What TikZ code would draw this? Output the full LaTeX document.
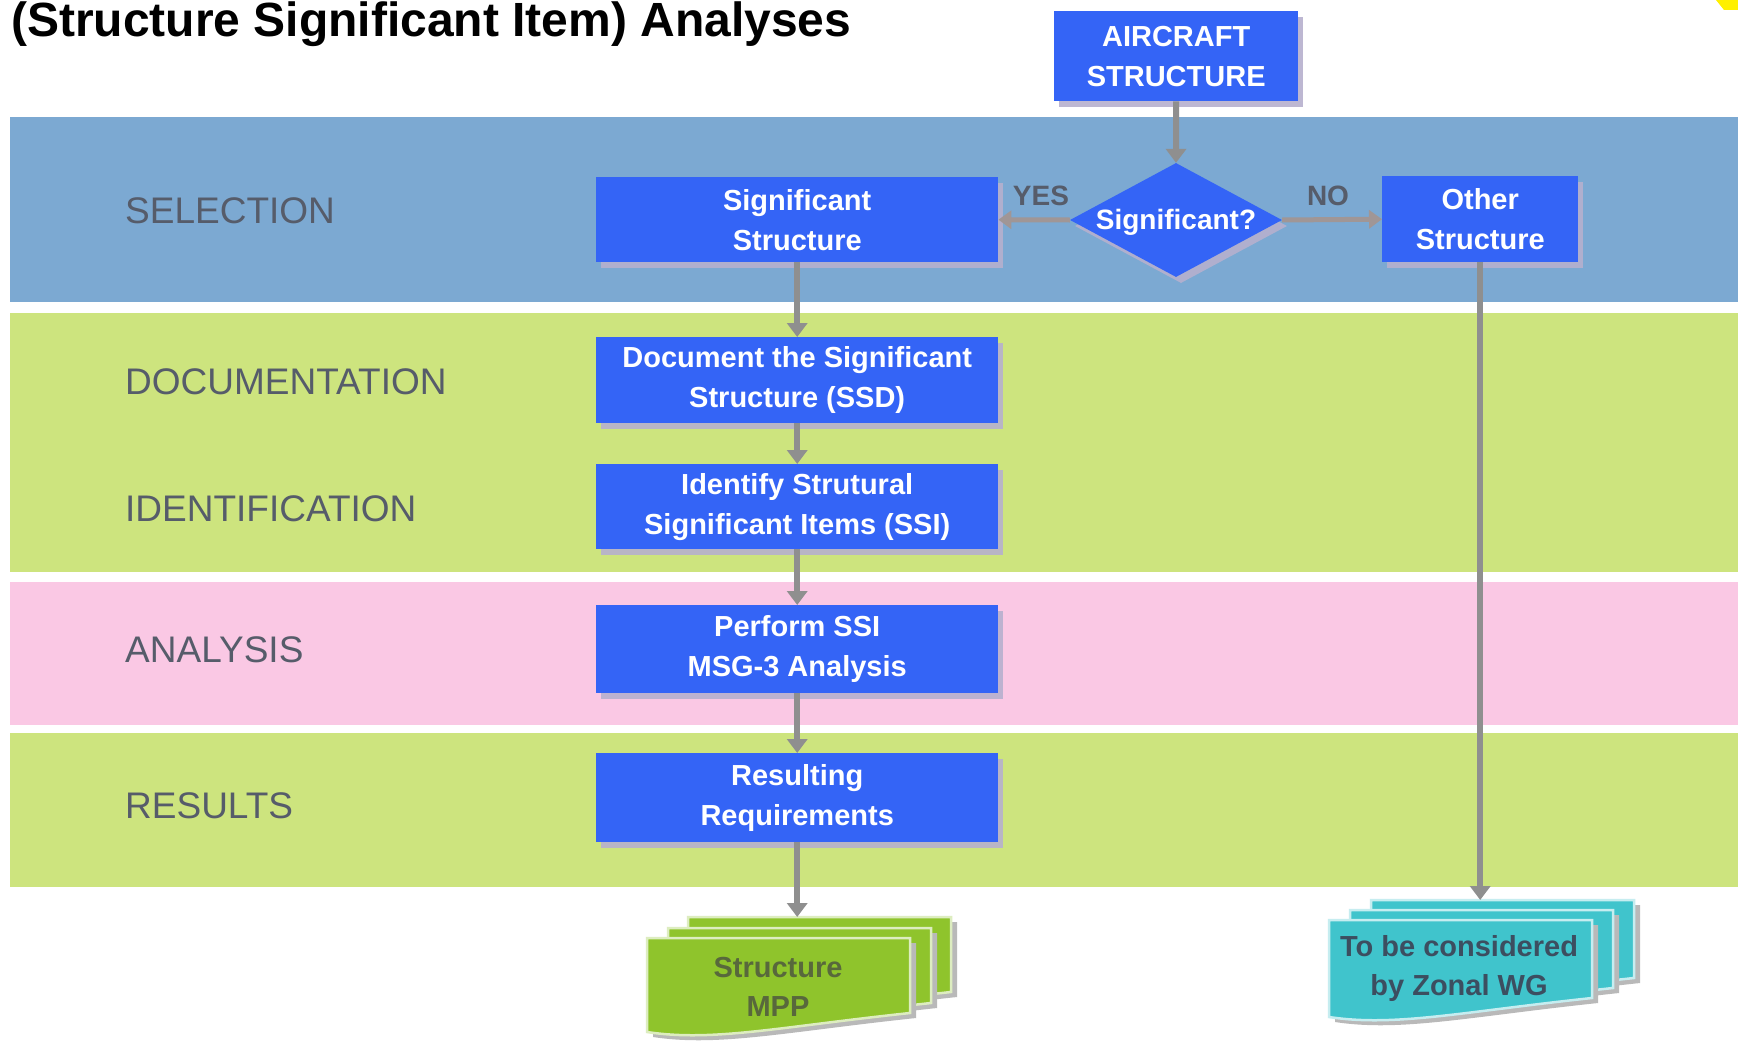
\documentclass[tikz,border=0pt]{standalone}
\usepackage{fontspec}
\setmainfont{Liberation Sans}
\usetikzlibrary{arrows.meta,shapes.geometric,shadows}

\definecolor{bandblue}{RGB}{124,169,210}
\definecolor{bandgreen}{RGB}{205,228,126}
\definecolor{bandpink}{RGB}{250,200,228}
\definecolor{boxblue}{RGB}{52,100,246}
\definecolor{labelgray}{RGB}{86,92,106}
\definecolor{arrowgray}{RGB}{143,143,143}
\definecolor{shadowlav}{RGB}{182,176,206}
\definecolor{mppgreen}{RGB}{143,196,44}
\definecolor{mpptext}{RGB}{88,104,60}
\definecolor{zonalteal}{RGB}{64,196,204}
\definecolor{zonaltext}{RGB}{60,78,96}
\definecolor{pagegray}{RGB}{185,185,185}
\definecolor{markyellow}{RGB}{255,240,0}

% one sheet of a document stack: x, y (top left), width, height, colour
\newcommand\stackpage[5]{%
  \fill[pagegray, shift={(6,5)}] (#1,#2) -- ({#1+#3},#2) -- ({#1+#3},{#2+#4-19})
    .. controls ({#1+0.5*#3},{#2+#4-5}) and ({#1+0.25*#3},{#2+#4+10}) .. (#1,{#2+#4}) -- cycle;
  \draw[fill=#5, draw=#5!30!white, line width=2.5pt] (#1,#2) -- ({#1+#3},#2) -- ({#1+#3},{#2+#4-19})
    .. controls ({#1+0.5*#3},{#2+#4-5}) and ({#1+0.25*#3},{#2+#4+10}) .. (#1,{#2+#4}) -- cycle;
}

\begin{document}
\begin{tikzpicture}[x=1pt, y=-1pt,
  stepbox/.style={fill=boxblue, text=white, font=\bfseries\fontsize{29}{40}\selectfont,
    align=center, inner sep=0pt, anchor=north west,
    drop shadow={shadow xshift=5pt, shadow yshift=-6pt, fill=shadowlav, opacity=0.9}},
  phaselabel/.style={anchor=west, text=labelgray, font=\fontsize{37}{44}\selectfont, inner sep=0pt},
  answer/.style={text=labelgray, font=\bfseries\fontsize{28}{34}\selectfont, inner sep=0pt},
  flow/.style={draw=arrowgray, line width=6pt, -{Triangle[width=20pt,length=14pt]}},
  sideflow/.style={draw=arrowgray!85!pink, line width=5pt, -{Triangle[width=18pt,length=13pt]}},
  doctext/.style={font=\bfseries\fontsize{29}{39}\selectfont, align=center, inner sep=0pt}]

\useasboundingbox (0,0) rectangle (1738,1041);
\fill[white] (0,0) rectangle (1738,1041);

% phase bands
\fill[bandblue]  (10,117) rectangle (1738,302);
\fill[bandgreen] (10,313) rectangle (1738,572);
\fill[bandpink]  (10,582) rectangle (1738,725);
\fill[bandgreen] (10,733) rectangle (1738,887);

% corner mark
\fill[markyellow] (1716,0) -- (1738,0) -- (1738,10) -- (1724,10) -- cycle;

% heading
\node[anchor=base west, inner sep=0pt, font=\bfseries\fontsize{48}{56}\selectfont] (title) at (11,37)
  {(Structure Significant Item) Analyses};

% phase names
\node[phaselabel] (lsel) at (125,211) {SELECTION};
\node[phaselabel] (ldoc) at (125,382) {DOCUMENTATION};
\node[phaselabel] (lid)  at (125,509) {IDENTIFICATION};
\node[phaselabel] (lana) at (125,650) {ANALYSIS};
\node[phaselabel] (lres) at (125,806) {RESULTS};

% process boxes
\node[stepbox, minimum width=244pt, minimum height=90pt] (ac) at (1054,11) {AIRCRAFT\\STRUCTURE};
\node[diamond, fill=boxblue, minimum width=212pt, minimum height=114pt, inner sep=0pt,
  drop shadow={shadow xshift=5pt, shadow yshift=-6pt, fill=shadowlav, opacity=0.9}] (dia) at (1176,220) {};
\node[text=white, font=\bfseries\fontsize{28}{34}\selectfont, inner sep=0pt] (diatext) at (1176,222) {Significant?};
\node[stepbox, minimum width=402pt, minimum height=85pt] (sig) at (596,177) {Significant\\Structure};
\node[stepbox, minimum width=196pt, minimum height=86pt] (oth) at (1382,176) {Other\\Structure};
\node[stepbox, minimum width=402pt, minimum height=86pt] (doc) at (596,337) {Document the Significant\\Structure (SSD)};
\node[stepbox, minimum width=402pt, minimum height=85pt] (ident) at (596,464) {Identify Strutural\\Significant Items (SSI)};
\node[stepbox, minimum width=402pt, minimum height=88pt] (perf) at (596,605) {Perform SSI\\MSG-3 Analysis};
\node[stepbox, minimum width=402pt, minimum height=89pt] (res) at (596,753) {Resulting\\Requirements};

\node[answer] (yes) at (1041,196) {YES};
\node[answer] (no)  at (1328,196) {NO};

% output document stacks
\stackpage{688}{917}{263}{94}{mppgreen}
\stackpage{668}{928}{263}{94}{mppgreen}
\stackpage{647}{938}{263}{94}{mppgreen}
\node[doctext, text=mpptext] (mpp) at (778,987) {Structure\\MPP};
\coordinate (mppin) at (res.south |- 0,917);

\stackpage{1371}{900}{263}{97}{zonalteal}
\stackpage{1350}{910}{263}{97}{zonalteal}
\stackpage{1329}{920}{263}{97}{zonalteal}
\node[doctext, text=zonaltext] (zonal) at (1459,968) {To be considered\\by Zonal WG};
\coordinate (zonin) at (oth.south |- 0,900);

% connectors
\draw[flow] (ac.south) -- (dia.north);
\draw[sideflow] (dia.west) -- (sig.east);
\draw[sideflow] (dia.east) -- (oth.west);
\draw[flow] (sig.south) -- (doc.north);
\draw[flow] (doc.south) -- (ident.north);
\draw[flow] (ident.south) -- (perf.north);
\draw[flow] (perf.south) -- (res.north);
\draw[flow] (res.south) -- (mppin);
\draw[flow] (oth.south) -- (zonin);

\end{tikzpicture}
\end{document}
